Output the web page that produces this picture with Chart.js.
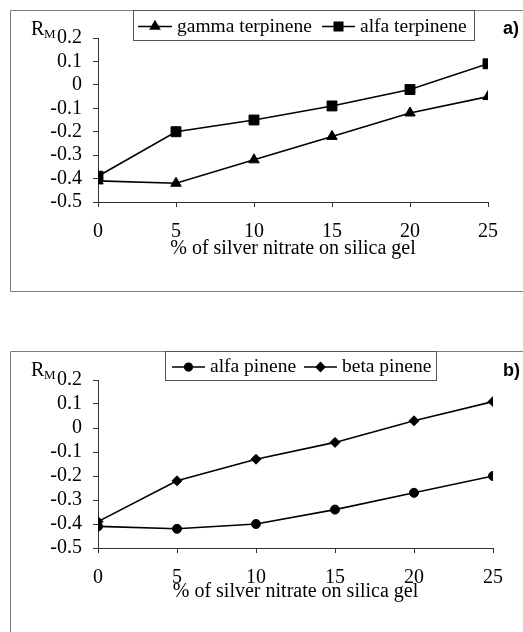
<!DOCTYPE html>
<html>
<head>
<meta charset="utf-8">
<script src="https://cdn.jsdelivr.net/npm/chart.js@4/dist/chart.umd.min.js"></script>
<style>
  html, body { margin: 0; padding: 0; background: #fff; }
  body { width: 523px; height: 632px; position: relative; overflow: hidden; }
  canvas { position: absolute; left: 0; }
</style>
</head>
<body>
<canvas id="chartA" width="523" height="300" style="top:0px"></canvas>
<canvas id="chartB" width="523" height="312" style="top:320px"></canvas>
<script>
// ---- data ----
const silverPct = [0, 5, 10, 15, 20, 25];
const gammaTerpinene = [-0.41, -0.42, -0.32, -0.22, -0.12, -0.05];
const alfaTerpinene  = [-0.39, -0.20, -0.15, -0.09, -0.02, 0.09];
const alfaPinene     = [-0.41, -0.42, -0.40, -0.34, -0.27, -0.20];
const betaPinene     = [-0.39, -0.22, -0.13, -0.06, 0.03, 0.11];
const yMin = -0.5, yMax = 0.2, yStep = 0.1;
const xMin = 0, xMax = 25, xStep = 5;
const xTitle = '% of silver nitrate on silica gel';
const yLabelMain = 'R', yLabelSub = 'M';

const SERIF = '"Liberation Serif", "Times New Roman", serif';
const SANS = '"Liberation Sans", Arial, sans-serif';

function pts(ys) { return silverPct.map((x, i) => ({ x: x, y: ys[i] })); }

function series(label, ys, style, radius) {
  return {
    label: label, data: pts(ys),
    borderColor: '#000', backgroundColor: '#000', borderWidth: 1.6,
    pointStyle: style, pointRadius: radius, pointBackgroundColor: '#000',
    pointBorderColor: '#000', pointBorderWidth: 1, tension: 0
  };
}

const decoPlugin = {
  id: 'deco',
  afterDraw(chart) {
    const o = chart.options.plugins.deco;
    const ctx = chart.ctx;
    ctx.save();
    // outer frame
    ctx.strokeStyle = '#7a7a7a';
    ctx.lineWidth = 1;
    ctx.beginPath();
    ctx.moveTo(10.5, o.frameBottom);
    ctx.lineTo(10.5, o.frameTop);
    ctx.lineTo(600, o.frameTop);
    ctx.stroke();
    if (o.frameBottom < chart.height) {
      ctx.beginPath();
      ctx.moveTo(10.5, o.frameBottom);
      ctx.lineTo(600, o.frameBottom);
      ctx.stroke();
    }
    // legend box
    ctx.fillStyle = '#fff';
    ctx.fillRect(o.legend.x, o.legend.y, o.legend.w, o.legend.h);
    ctx.strokeStyle = '#555';
    ctx.strokeRect(o.legend.x, o.legend.y, o.legend.w, o.legend.h);
    const cy = o.legend.y + o.legend.h / 2;
    chart.data.datasets.forEach((ds, i) => {
      const it = o.legend.items[i];
      ctx.strokeStyle = '#000';
      ctx.lineWidth = 1.6;
      ctx.beginPath();
      ctx.moveTo(it.x0, cy + 1);
      ctx.lineTo(it.x1, cy + 1);
      ctx.stroke();
      ctx.fillStyle = '#000';
      Chart.helpers.drawPoint(ctx, { pointStyle: ds.pointStyle, radius: ds.pointRadius * 0.85, rotation: 0, borderWidth: 1 }, (it.x0 + it.x1) / 2, cy + 1);
      ctx.fillStyle = '#000';
      ctx.font = '19.5px ' + SERIF;
      ctx.textBaseline = 'alphabetic';
      ctx.textAlign = 'left';
      ctx.fillText(ds.label, it.x1 + 5, cy + 6);
    });
    // R_M label
    ctx.fillStyle = '#000';
    ctx.font = '20px ' + SERIF;
    ctx.textAlign = 'left';
    ctx.fillText(yLabelMain, 31, o.rmBase);
    ctx.font = '13px ' + SERIF;
    ctx.fillText(yLabelSub, 44, o.rmBase + 3);
    // panel label
    ctx.font = 'bold 18px ' + SANS;
    ctx.fillText(o.panel, 503, o.panelBase);
    ctx.restore();
  }
};

function makeChart(id, datasets, p) {
  return new Chart(document.getElementById(id), {
    type: 'line',
    data: { datasets: datasets },
    plugins: [decoPlugin],
    options: {
      responsive: false, animation: false, devicePixelRatio: 1,
      layout: { padding: { left: 0, top: p.top, right: p.right, bottom: 0 } },
      plugins: {
        legend: { display: false }, tooltip: { enabled: false },
        deco: p.deco
      },
      scales: {
        x: {
          type: 'linear', min: xMin, max: xMax,
          ticks: { stepSize: xStep, autoSkip: false, color: '#000', font: { family: SERIF, size: 20 }, padding: 13, maxRotation: 0 },
          grid: { drawOnChartArea: false, drawTicks: true, tickLength: 5, color: '#333' },
          border: { color: '#333', width: 1 },
          title: { display: true, text: xTitle, color: '#000', font: { family: SERIF, size: 20 }, padding: { top: 0, bottom: p.titlePad } },
          afterFit(s) { s.height = p.xHeight; }
        },
        y: {
          type: 'linear', min: yMin, max: yMax,
          ticks: {
            stepSize: yStep, autoSkip: false, color: '#000', font: { family: SERIF, size: 20 }, padding: 11,
            callback: v => { const r = Math.round(v * 10) / 10; return r === 0 ? '0' : String(r); }
          },
          grid: { drawOnChartArea: false, drawTicks: true, tickLength: 5, color: '#333' },
          border: { color: '#333', width: 1 },
          afterFit(s) { s.width = 98; }
        }
      }
    }
  });
}

makeChart('chartA', [
  series('gamma terpinene', gammaTerpinene, 'triangle', 6),
  series('alfa terpinene', alfaTerpinene, 'rect', 7)
], {
  top: 38, right: 35, xHeight: 98, titlePad: 39,
  deco: {
    frameTop: 10.5, frameBottom: 291.5,
    legend: { x: 133.5, y: 10.5, w: 341, h: 30, items: [{ x0: 138, x1: 172 }, { x0: 322, x1: 355 }] },
    rmBase: 35, panel: 'a)', panelBase: 34
  }
});

makeChart('chartB', [
  series('alfa pinene', alfaPinene, 'circle', 4.5),
  series('beta pinene', betaPinene, 'rectRot', 5)
], {
  top: 60, right: 30, xHeight: 84, titlePad: 28,
  deco: {
    frameTop: 31.5, frameBottom: 400,
    legend: { x: 165.5, y: 31.5, w: 271, h: 29, items: [{ x0: 172, x1: 205 }, { x0: 304, x1: 337 }] },
    rmBase: 56, panel: 'b)', panelBase: 56
  }
});
</script>
</body>
</html>
